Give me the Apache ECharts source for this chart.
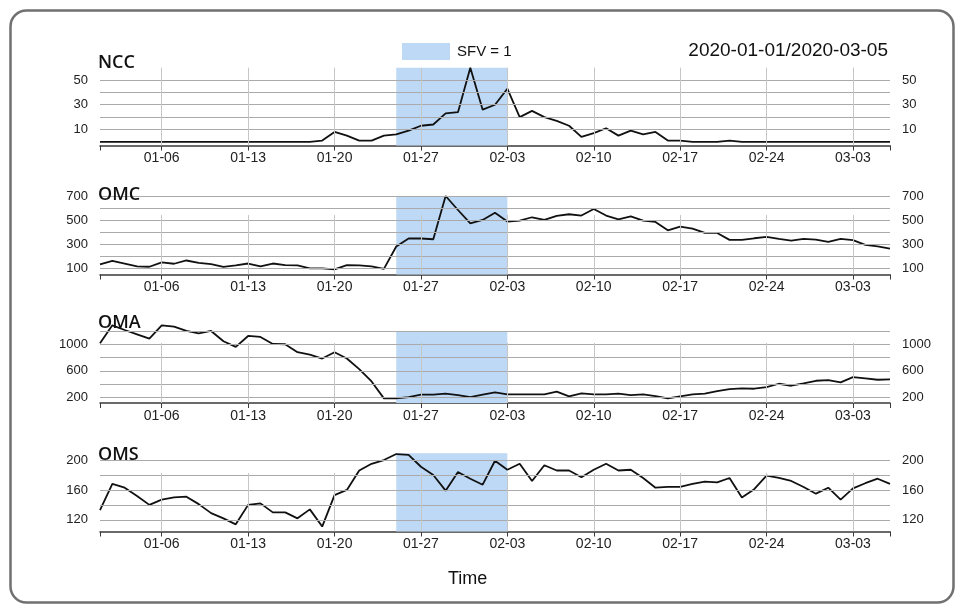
<!DOCTYPE html>
<html>
<head>
<meta charset="utf-8">
<script src="https://cdn.jsdelivr.net/npm/echarts@6/dist/echarts.min.js"></script>
<style>html,body{margin:0;padding:0;background:#fff}#chart{width:959px;height:609px}</style>
</head>
<body>
<div id="chart"></div>
<script>
// ---- data ----
const startDate = '2020-01-01';
const dayCount = 65;
const tickIdx = [5, 12, 19, 26, 33, 40, 47, 54, 61];
const tickLabels = ['01-06', '01-13', '01-20', '01-27', '02-03', '02-10', '02-17', '02-24', '03-03'];
const sfvStart = 24; // 2020-01-25
const sfvEnd = 33;   // 2020-02-03
const panelNames = ['NCC', 'OMC', 'OMA', 'OMS'];
const ncc = [0,0,0,0,0,0,0,0,0,0,0,0,0,0,0,0,0,0,
  1,8,5,1,1,5,6,9,13,14,23,24,60,26,30,43,
  20,25,20,17,13,4,7,11,5,9,6,8,1,1,0,0,0,1,
  0,0,0,0,0,0,0,0,0,0,0,0,0];
const omc = [133,163,141,117,114,150,139,166,147,136,114,125,141,117,141,128,125,100,100,92,128,125,117,97,282,348,348,342,700,584,474,502,562,488,
  496,524,502,535,549,538,593,538,507,532,496,485,416,447,430,394,394,337,337,350,361,345,331,345,339,320,345,334,295,282,265];
const oma = [1015,1285,1215,1150,1085,1285,1265,1200,1165,1200,1045,960,1125,1110,1005,1000,880,845,785,880,785,625,440,185,185,205,240,240,255,235,205,240,275,245,
  245,245,245,285,215,260,245,245,255,235,245,220,185,215,245,255,295,325,335,330,355,405,375,410,450,460,425,505,485,465,470];
const oms = [133,168,163,152,140,147,150,151,141,129,122,114,140,142,130,130,122,134,111,153,160,186,195,200,208,207,191,180,159,184,175,167,199,187,
  195,172,193,186,186,177,187,195,186,187,176,163,164,164,168,171,170,176,150,161,179,176,172,164,155,163,147,162,169,175,168];
const nccLabels = [10, 30, 50];
const omcLabels = [100, 300, 500, 700];
const omaLabels = [200, 600, 1000];
const omsLabels = [120, 160, 200];
const nccGrid = [10, 20, 30, 40, 50];
const omcGrid = [100, 200, 300, 400, 500, 600, 700];
const omaGrid = [200, 400, 600, 800, 1000, 1200];
const omsGrid = [120, 140, 160, 180, 200];

// ---- build ----
const dates = [];
(function(){
  const d0 = new Date(startDate + 'T00:00:00Z');
  for (let i = 0; i < dayCount; i++) {
    const d = new Date(d0.getTime() + i * 86400000);
    dates.push(d.toISOString().slice(0, 10));
  }
})();

const panels = [
  {name:'NCC', data:ncc, labels:nccLabels, grid:nccGrid, min:-3, max:60, shadeTop:60, vTop:60, top:67.7, height:77.8, titleTop:49},
  {name:'OMC', data:omc, labels:omcLabels, grid:omcGrid, min:50, max:700, shadeTop:700, vTop:543, top:196, height:78.5, titleTop:181},
  {name:'OMA', data:oma, labels:omaLabels, grid:omaGrid, min:115, max:1290, shadeTop:1200, vTop:1020, top:325, height:78, titleTop:308.5},
  {name:'OMS', data:oms, labels:omsLabels, grid:omsGrid, min:104.4, max:209, shadeTop:209, vTop:182.7, top:453.3, height:78.2, titleTop:441}
];

const FONT = 'Liberation Sans, Arial, sans-serif';
const SHADE = '#bed9f5';
const grids = [], xAxes = [], yAxes = [], series = [];
const titles = [
  {text:'2020-01-01/2020-03-05', right:66, top:36, textStyle:{fontSize:19, fontWeight:'normal', color:'#111', fontFamily:FONT}},
  {text:'Time', left:443, top:565, textStyle:{fontSize:18, fontWeight:'normal', color:'#111', fontFamily:FONT}}
];

panels.forEach((p, k) => {
  grids.push({left:100, right:69, top:p.top, height:p.height, containLabel:false});
  xAxes.push({
    type:'category', gridIndex:k, data:dates, boundaryGap:false,
    axisLine:{show:true, onZero:false, lineStyle:{color:'#3a3a3a', width:1.5}},
    axisTick:{show:true, length:5, interval:(i)=> i===0 || i===dayCount-1 || tickIdx.indexOf(i)>=0, lineStyle:{color:'#3a3a3a', width:1}},
    axisLabel:{show:true, interval:(i)=> tickIdx.indexOf(i)>=0, formatter:(v,i)=>{const j=tickIdx.indexOf(i); return j>=0?tickLabels[j]:'';}, fontSize:14, color:'#222', fontFamily:FONT, margin:6},
    splitLine:{show:false}
  });
  ['left','right'].forEach(pos => {
    yAxes.push({
      type:'value', gridIndex:k, position:pos, min:p.min, max:p.max,
      axisLine:{show:false}, axisTick:{show:false}, splitLine:{show:false},
      axisLabel:{customValues:p.labels, formatter:(v)=>String(v), fontSize:13, color:'#222', fontFamily:FONT, margin:12}
    });
  });
  titles.push({text:p.name, left:93, top:p.titleTop, textStyle:{fontSize:18, fontWeight:600, color:'#111', fontFamily:'Open Sans, Noto Sans, sans-serif'}});
  const yi = k*2;
  // shaded SFV period
  series.push({
    name:'SFV = 1', type:'line', xAxisIndex:k, yAxisIndex:yi, data:[], z:1,
    itemStyle:{color:SHADE}, lineStyle:{color:SHADE},
    markArea:{silent:true, itemStyle:{color:SHADE, opacity:1},
      data:[[{xAxis:dates[sfvStart], yAxis:p.min}, {xAxis:dates[sfvEnd], yAxis:p.shadeTop}]]}
  });
  // grid lines
  const hl = p.grid.map(v => ({yAxis:v, lineStyle:{color:'#aaaaaa', width:1, type:'solid'}}));
  const vl = tickIdx.map(i => [{coord:[dates[i], p.min], lineStyle:{color:'#c6c6c6', width:1, type:'solid'}}, {coord:[dates[i], p.vTop]}]);
  series.push({
    name:'grid'+k, type:'line', xAxisIndex:k, yAxisIndex:yi, data:[], z:2,
    markLine:{silent:true, symbol:['none','none'], label:{show:false}, animation:false,
      data: hl.concat(vl)}
  });
  series.push({
    name:p.name, type:'line', xAxisIndex:k, yAxisIndex:yi, data:p.data, z:3,
    showSymbol:false, symbol:'none', lineStyle:{color:'#111', width:1.8}, itemStyle:{color:'#111'}
  });
});

const chart = echarts.init(document.getElementById('chart'), null, {renderer:'canvas'});
chart.setOption({
  animation:false,
  backgroundColor:'#fff',
  title:titles,
  legend:{data:['SFV = 1'], left:397, top:38, icon:'rect', itemWidth:48, itemHeight:17,
    textStyle:{fontSize:15, color:'#111', fontFamily:FONT, padding:[0,0,0,2]}},
  grid:grids, xAxis:xAxes, yAxis:yAxes, series:series,
  graphic:[{type:'rect', left:8, top:8, shape:{width:943, height:592, r:16}, style:{fill:'none', stroke:'#707070', lineWidth:2.5}, silent:true}]
});
</script>
</body>
</html>
